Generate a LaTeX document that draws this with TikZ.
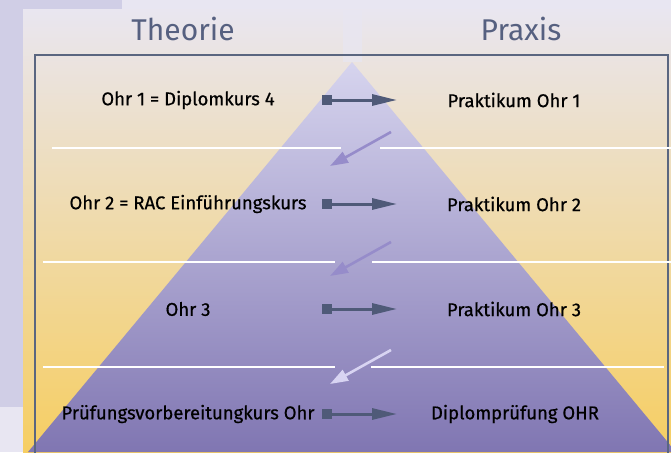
\documentclass[tikz,border=0pt]{standalone}
\usepackage{fontspec}
\setmainfont{Fira Sans}
\newfontfamily\rowfont{Fira Sans}[FakeBold=0.6]
\usetikzlibrary{arrows.meta}
\definecolor{paleviolet}{RGB}{232,230,242}
\definecolor{bandviolet}{RGB}{208,206,230}
\definecolor{paneltop}{RGB}{233,230,240}
\definecolor{panelbot}{RGB}{246,206,98}
\definecolor{pyrtop}{RGB}{214,212,238}
\definecolor{pyrbot}{RGB}{128,118,178}
\definecolor{frame}{RGB}{90,102,128}
\definecolor{titleblue}{RGB}{86,96,128}
\definecolor{slate}{RGB}{79,90,120}
\definecolor{downviolet}{RGB}{150,140,202}
\definecolor{downpale}{RGB}{216,212,242}
\tikzset{
  rowtext/.style={font=\rowfont\fontsize{18.5}{22}\selectfont, text=black, inner sep=0pt},
  headtext/.style={font=\fontsize{30}{34}\selectfont, text=titleblue, inner sep=0pt},
  stub/.style={fill=slate, minimum size=10pt, inner sep=0pt},
  toprax/.style={draw=slate, line width=3pt, -{Triangle[length=25pt,width=11pt]}},
  nextrow/.style={line width=2.6pt, -{Triangle[length=18pt,width=12pt]}},
  divider/.style={draw=white, line width=1.6pt}
}
\begin{document}
\begin{tikzpicture}[x=1pt,y=-1pt]
\useasboundingbox (0,0) rectangle (671,452);
% background
\fill[paleviolet] (0,0) rectangle (671,452);
\fill[bandviolet] (0,0) rectangle (122,10);
\fill[bandviolet] (0,0) rectangle (23,407);
\shade[top color=paneltop, bottom color=panelbot] (23,10) rectangle (671,452);
\fill[paleviolet, opacity=0.7] (343,10) rectangle (362,62);
% pyramid
\shade[top color=pyrtop, bottom color=pyrbot] (352,62) -- (676,452) -- (28,452) -- cycle;
\draw[frame, line width=1.5pt] (35,470) -- (35,55) -- (668,55) -- (668,470);
% dividers
\draw[divider] (52,148) -- (341,148) (380,148) -- (671,148);
\draw[divider] (43,262) -- (335,262) (372,262) -- (671,262);
\draw[divider] (43,367) -- (335,367) (371,367) -- (664,367);
% titles
\node[headtext] (theo) at (183,29) {Theorie};
\node[headtext] (prax) at (521,29) {Praxis};
% rows
\node[rowtext] (t1) at (188,100) {Ohr 1 = Diplomkurs 4};
\node[rowtext] (t2) at (188,204) {Ohr 2 = RAC Einführungskurs};
\node[rowtext] (t3) at (188,309) {Ohr 3};
\node[rowtext] (t4) at (188,414) {Prüfungsvorbereitungkurs Ohr};
\node[rowtext] (p1) at (514,100) {Praktikum Ohr 1};
\node[rowtext] (p2) at (514,204) {Praktikum Ohr 2};
\node[rowtext] (p3) at (514,309) {Praktikum Ohr 3};
\node[rowtext] (p4) at (515,414) {Diplomprüfung OHR};
% arrows theory -> practice
\foreach \r/\y in {1/100,2/204,3/309,4/414}{
  \node[stub] (s\r) at (327,\y) {};
  \coordinate (e\r) at (397,\y);
  \draw[toprax] (s\r.center) -- (e\r);
}
% arrows to next row
\coordinate (d1a) at (391,132); \coordinate (d1b) at (330,166);
\coordinate (d2a) at (391,242); \coordinate (d2b) at (330,276);
\coordinate (d3a) at (391,350); \coordinate (d3b) at (330,384);
\draw[nextrow, downviolet] (d1a) -- (d1b);
\draw[nextrow, downviolet] (d2a) -- (d2b);
\draw[nextrow, downpale] (d3a) -- (d3b);
\end{tikzpicture}
\end{document}
